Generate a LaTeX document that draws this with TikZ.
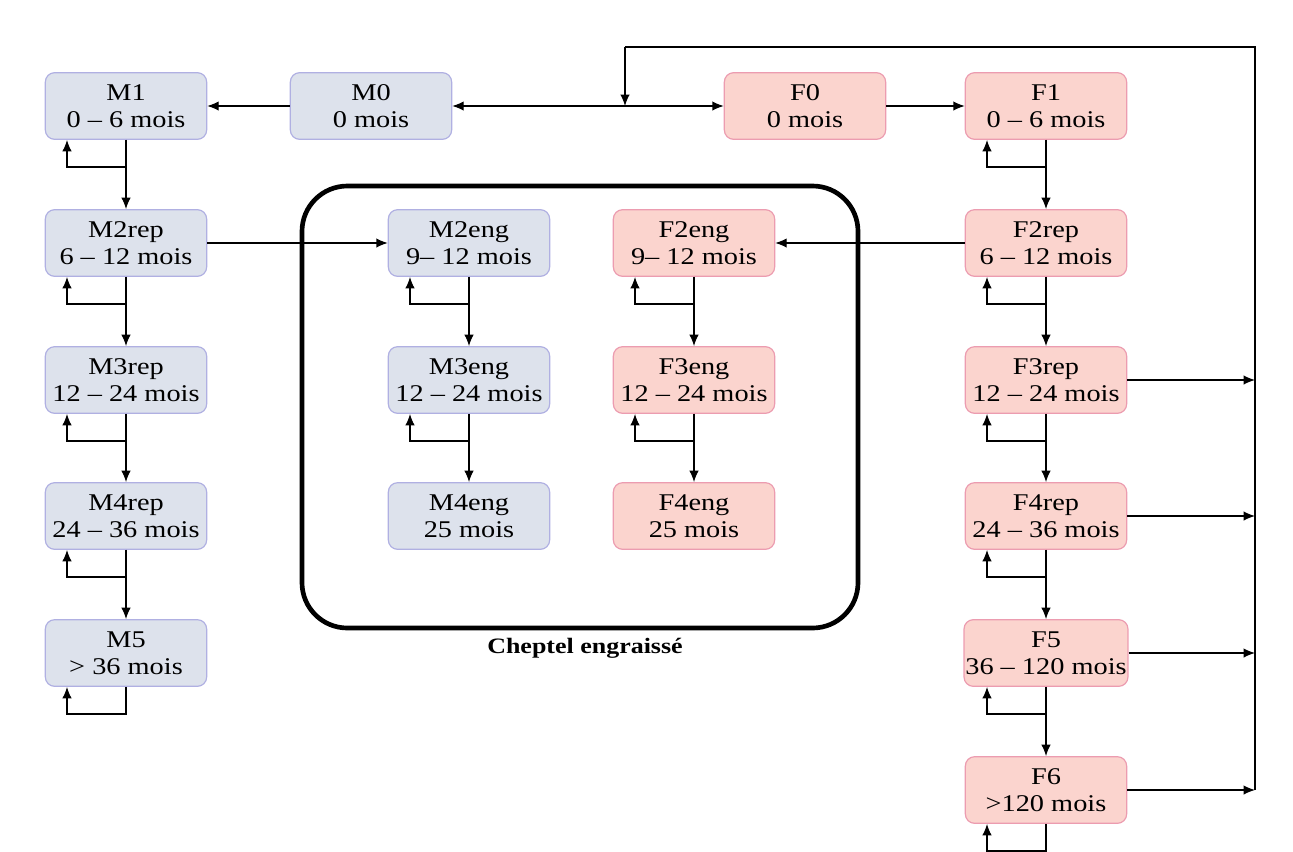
\documentclass[tikz,border=0pt]{standalone}
\usepackage{fontspec}
\setmainfont{Liberation Serif}[FakeStretch=1.18]
\usetikzlibrary{arrows.meta}
\definecolor{mfill}{RGB}{221,226,236}
\definecolor{mdraw}{RGB}{176,176,226}
\definecolor{ffill}{RGB}{251,212,206}
\definecolor{fdraw}{RGB}{236,156,176}
\tikzset{
  box/.style={rectangle, rounded corners=7pt, minimum width=121pt, minimum height=50pt,
    align=center, inner sep=1pt, font=\fontsize{18}{20.5}\selectfont, line width=0.9pt},
  mbox/.style={box, fill=mfill, draw=mdraw},
  fbox/.style={box, fill=ffill, draw=fdraw},
  arr/.style={-{Latex[length=8.5pt,width=7pt]}, line width=0.9pt},
  ln/.style={line width=0.9pt},
}
\begin{document}
\begin{tikzpicture}[x=0.75pt,y=-0.75pt]
\useasboundingbox (0,0) rectangle (1293,851);
% male column
\node[mbox] (M1) at (126,106) {M1\\0 -- 6 mois};
\node[mbox] (M0) at (371,106) {M0\\0 mois};
\node[mbox] (M2rep) at (126,243) {M2rep\\6 -- 12 mois};
\node[mbox] (M3rep) at (126,380) {M3rep\\12 -- 24 mois};
\node[mbox] (M4rep) at (126,516) {M4rep\\24 -- 36 mois};
\node[mbox] (M5) at (126,653) {M5\\> 36 mois};
% fattened
\node[mbox] (M2eng) at (469,243) {M2eng\\9-- 12 mois};
\node[mbox] (M3eng) at (469,380) {M3eng\\12 -- 24 mois};
\node[mbox] (M4eng) at (469,516) {M4eng\\25 mois};
\node[fbox] (F2eng) at (694,243) {F2eng\\9-- 12 mois};
\node[fbox] (F3eng) at (694,380) {F3eng\\12 -- 24 mois};
\node[fbox] (F4eng) at (694,516) {F4eng\\25 mois};
% female column
\node[fbox] (F0) at (805,106) {F0\\0 mois};
\node[fbox] (F1) at (1046,106) {F1\\0 -- 6 mois};
\node[fbox] (F2rep) at (1046,243) {F2rep\\6 -- 12 mois};
\node[fbox] (F3rep) at (1046,380) {F3rep\\12 -- 24 mois};
\node[fbox] (F4rep) at (1046,516) {F4rep\\24 -- 36 mois};
\node[fbox] (F5) at (1046,653) {F5\\36 -- 120 mois};
\node[fbox] (F6) at (1046,790) {F6\\>120 mois};
% cheptel box
\draw[line width=3.5pt, rounded corners=34pt] (302,186) rectangle (858,628);
\node[font=\fontsize{16.5}{19}\selectfont\bfseries] (lab) at (585,648) {Cheptel engraissé};
% junction & feedback
\coordinate (J) at (625,106);
\coordinate (TL) at (625,47);
\coordinate (TR) at (1255,47);
\coordinate (BR) at (1255,790);
\draw[arr] (M0) -- (M1);
\draw[arr] (J) -- (M0);
\draw[arr] (J) -- (F0);
\draw[arr] (F0) -- (F1);
\draw[ln] (BR) -- (TR) -- (TL);
\draw[arr] (TL) -- (J);
\foreach \n in {F3rep,F4rep,F5,F6}{
  \draw[arr] (\n.east) -- (\n.east -| TR);
}
\draw[arr] (M2rep) -- (M2eng);
\draw[arr] (F2rep) -- (F2eng);
% vertical chains
\foreach \a/\b in {M1/M2rep,M2rep/M3rep,M3rep/M4rep,M4rep/M5,
                   M2eng/M3eng,M3eng/M4eng,F2eng/F3eng,F3eng/F4eng,
                   F1/F2rep,F2rep/F3rep,F3rep/F4rep,F4rep/F5,F5/F6}{
  \draw[arr] (\a) -- (\b);
}
% self loops
\foreach \n in {M1,M2rep,M3rep,M4rep,M5,M2eng,M3eng,F2eng,F3eng,F1,F2rep,F3rep,F4rep,F5,F6}{
  \draw[arr] (\n.south) -- ++(0,27) -- ++(-59,0) -- ++(0,-27);
}
\end{tikzpicture}
\end{document}
